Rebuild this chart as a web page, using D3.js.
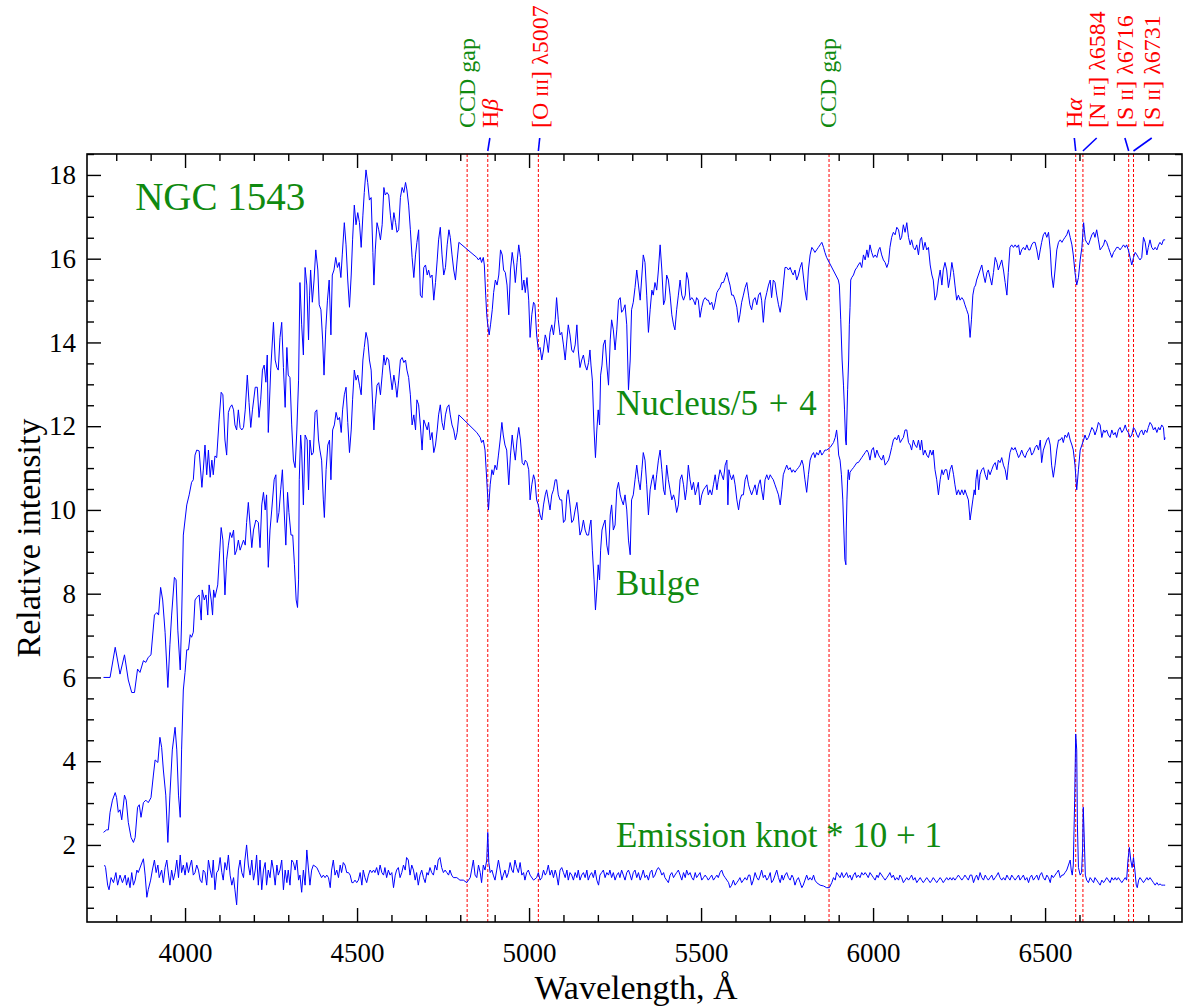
<!DOCTYPE html>
<html>
<head>
<meta charset="utf-8">
<script src="https://cdn.jsdelivr.net/npm/d3@7"></script>
<style>
  body { margin: 0; background: #fff; }
  text { font-family: "Liberation Serif", "DejaVu Serif", serif; }
</style>
</head>
<body>
<div id="chart"></div>
<script>
// ---- data: [wavelength (A), relative intensity] ----
var nucleus = [
[3763,6.00],[3782,6.00],[3797,6.72],[3811,6.08],[3824,6.54],[3835,5.94],[3845,5.64],[3853,5.64],[3862,6.20],[3869,6.12],[3879,6.40],[3886,6.36],[3893,6.48],[3901,6.54],[3911,7.49],[3918,7.55],[3923,7.49],[3929,8.15],[3935,7.85],[3942,7.08],[3950,5.76],[3956,6.78],[3961,7.49],[3969,8.39],[3974,8.33],[3979,7.13],[3986,6.18],[3990,7.37],[3995,9.40],[4000,9.76],[4005,10.12],[4012,10.36],[4019,10.66],[4024,10.72],[4029,11.31],[4034,11.43],[4041,11.41],[4049,10.54],[4053,10.95],[4058,11.55],[4063,10.84],[4068,11.43],[4073,10.78],[4078,11.19],[4082,10.84],[4087,11.29],[4092,11.25],[4099,12.15],[4105,12.81],[4110,12.75],[4116,11.67],[4121,11.31],[4126,12.33],[4131,12.45],[4136,12.51],[4141,12.39],[4145,12.03],[4150,11.91],[4155,12.39],[4160,11.97],[4165,11.91],[4170,11.97],[4175,12.39],[4181,13.22],[4186,12.57],[4191,11.97],[4196,12.39],[4204,12.93],[4210,12.93],[4215,12.21],[4220,12.63],[4225,13.34],[4230,13.46],[4235,13.05],[4239,13.70],[4242,11.85],[4249,13.34],[4257,14.48],[4262,13.58],[4267,13.40],[4271,13.34],[4276,14.12],[4281,14.48],[4286,13.40],[4291,12.45],[4296,13.88],[4300,13.22],[4305,13.16],[4310,12.03],[4315,11.19],[4320,11.01],[4325,11.91],[4330,13.10],[4334,15.43],[4339,14.42],[4344,13.70],[4349,15.79],[4354,15.37],[4359,14.06],[4362,15.13],[4365,15.73],[4370,14.96],[4375,15.49],[4380,16.21],[4386,15.73],[4390,14.90],
[4395,14.78],[4400,14.06],[4404,13.22],[4409,14.30],[4414,15.01],[4419,15.49],[4424,14.18],[4428,15.61],[4433,15.73],[4438,16.03],[4443,15.79],[4448,15.91],[4453,15.55],[4457,16.09],[4463,16.86],[4468,16.33],[4473,15.49],[4478,14.84],[4483,15.61],[4487,16.45],[4492,17.28],[4497,16.81],[4502,17.10],[4507,16.86],[4512,16.27],[4517,17.04],[4521,17.58],[4526,18.12],[4531,17.82],[4536,17.40],[4541,17.46],[4546,16.15],[4549,15.37],[4553,16.21],[4558,16.86],[4563,16.69],[4568,16.45],[4573,16.81],[4578,17.70],[4582,17.52],[4587,17.58],[4592,17.52],[4597,17.04],[4602,16.69],[4607,17.10],[4612,16.86],[4616,16.63],[4621,16.69],[4626,17.46],[4631,17.70],[4636,17.58],[4641,17.82],[4645,17.64],[4650,17.28],[4655,16.69],[4660,16.03],[4665,15.55],[4670,16.09],[4674,16.39],[4679,16.69],[4684,15.13],[4689,15.07],[4694,15.79],[4699,15.85],[4704,15.61],[4708,15.73],[4713,15.55],[4718,15.61],[4723,15.01],[4728,15.43],[4733,15.97],[4737,16.45],[4742,16.75],[4747,16.09],[4752,15.61],[4757,15.79],[4762,16.33],[4767,16.69],[4771,16.51],[4776,16.09],[4781,15.73],[4786,15.49],[4791,15.97],[4796,16.39],[4848,16.03],[4853,15.97],[4858,16.03],[4862,15.91],[4867,16.03],[4870,15.85],[4874,15.13],[4877,14.66],[4880,14.42],[4884,14.18],[4888,14.42],[4893,14.78],[4897,15.19],[4902,15.49],[4907,15.37],[4912,15.61],[4917,16.21],[4922,16.09],[4926,15.73],[4931,15.67],[4936,15.37],[4941,14.66],[4946,15.73],[4951,16.15],[4956,15.85],[4960,15.43],[4965,15.91],[4970,16.33],[4975,16.03],[4980,15.25],[4985,15.49],[4989,15.19],[4994,15.55],[4999,15.01],
[5003,14.12],[5008,14.66],[5013,14.96],[5017,14.90],[5022,14.18],[5027,13.82],[5032,13.88],[5037,13.58],[5042,13.82],[5047,14.18],[5051,14.06],[5056,13.76],[5061,14.24],[5066,14.42],[5071,14.18],[5076,14.54],[5080,15.07],[5085,14.54],[5090,14.18],[5095,14.24],[5100,13.94],[5105,13.58],[5110,14.06],[5114,14.42],[5119,14.18],[5124,13.82],[5129,13.76],[5134,13.94],[5139,14.42],[5143,13.82],[5148,13.40],[5153,13.58],[5158,13.70],[5163,13.46],[5168,13.34],[5173,13.52],[5177,13.82],[5180,13.46],[5184,13.10],[5189,11.91],[5193,11.25],[5197,11.91],[5201,12.39],[5205,12.03],[5208,13.22],[5212,13.46],[5216,13.94],[5221,14.06],[5226,13.46],[5231,12.98],[5236,14.06],[5240,14.54],[5245,14.30],[5250,13.82],[5255,14.30],[5260,15.01],[5265,15.07],[5269,14.72],[5274,14.78],[5279,14.90],[5284,14.42],[5289,12.87],[5294,13.58],[5298,14.78],[5303,14.96],[5308,15.31],[5313,15.73],[5318,15.37],[5323,15.01],[5328,15.61],[5332,16.09],[5337,15.91],[5342,15.13],[5347,14.24],[5352,14.78],[5357,15.25],[5361,15.13],[5366,15.43],[5371,15.25],[5376,15.73],[5381,16.33],[5386,15.73],[5391,14.90],[5395,15.01],[5400,15.61],[5405,15.49],[5410,15.13],[5415,14.66],[5420,14.42],[5424,14.30],[5429,14.78],[5434,15.13],[5439,15.49],[5444,15.13],[5449,15.01],[5454,15.13],[5458,15.67],[5463,15.49],[5468,15.01],[5473,15.07],[5478,15.01],[5483,14.90],[5487,15.07],[5492,15.01],[5497,14.60],[5502,14.84],[5507,15.01],[5512,15.07],[5517,15.01],[5521,15.01],[5526,14.90],[5531,14.96],[5536,14.78],[5541,14.96],[5546,15.19],[5550,15.25],[5555,15.31],[5560,15.43],[5565,15.43],[5570,15.55],[5575,15.67],[5580,15.49],[5584,15.37],[5589,15.13],[5594,15.13],[5599,15.01],[5604,14.84],[5609,14.48],[5613,14.66],[5618,14.96],[5623,15.13],[5628,15.31],[5633,15.43],[5638,15.13],
[5642,14.90],[5647,14.78],[5652,15.01],[5657,15.07],[5662,14.90],[5667,15.13],[5672,15.19],[5676,15.01],[5681,14.48],[5686,15.01],[5691,15.19],[5696,15.37],[5701,15.49],[5705,15.07],[5710,15.49],[5715,15.43],[5720,15.13],[5725,14.90],[5730,14.72],[5735,15.01],[5739,15.37],[5744,15.79],[5749,15.79],[5754,15.73],[5759,15.79],[5764,15.67],[5768,15.61],[5773,15.73],[5778,15.49],[5783,15.61],[5788,15.79],[5793,15.91],[5797,15.61],[5802,15.25],[5807,15.01],[5812,15.73],[5817,16.09],[5822,16.27],[5827,16.21],[5831,16.15],[5836,16.21],[5841,16.27],[5846,16.33],[5851,16.39],[5856,16.27],[5860,16.15],[5865,16.03],[5899,15.49],[5902,15.37],[5906,14.54],[5910,13.58],[5914,12.98],[5917,12.39],[5920,11.67],[5922,11.55],[5923,11.91],[5926,12.87],[5929,13.58],[5931,14.42],[5933,14.84],[5935,15.49],[5938,15.55],[5943,15.61],[5948,15.73],[5953,15.79],[5957,15.85],[5962,15.91],[5967,15.79],[5972,16.09],[5977,15.97],[5982,16.21],[5986,16.03],[5991,16.33],[5996,16.15],[6001,16.03],[6006,16.09],[6011,16.03],[6016,16.21],[6020,16.27],[6025,16.09],[6030,15.97],[6035,15.91],[6040,15.79],[6045,15.91],[6049,16.27],[6054,16.51],[6059,16.63],[6064,16.57],[6069,16.75],[6074,16.69],[6079,16.45],[6083,16.51],[6088,16.81],[6093,16.63],[6098,16.86],[6103,16.51],[6108,16.33],[6112,16.45],[6117,16.27],[6122,16.21],[6127,16.33],[6132,16.09],[6137,16.45],[6141,16.51],[6146,16.21],[6151,16.39],[6156,16.21],[6161,16.27],[6166,15.85],[6171,15.61],[6175,15.49],[6180,15.01],[6185,15.13],[6190,15.49],[6195,15.73],[6200,15.37],[6204,15.73],[6209,15.91],[6214,15.73],[6219,15.31],[6224,15.55],[6229,15.91],[6234,15.67],[6238,15.37],[6243,15.01],[6248,15.13],[6253,15.01],[6258,15.07],[6263,15.01],[6267,14.90],[6272,14.78],[6277,14.66],[6282,14.12],
[6286,14.54],[6290,15.13],[6294,15.31],[6298,15.37],[6301,15.49],[6306,15.61],[6311,15.73],[6316,15.85],[6321,15.61],[6326,15.43],[6331,15.67],[6335,15.73],[6340,15.55],[6345,15.37],[6350,15.67],[6355,16.03],[6360,15.91],[6364,15.73],[6369,15.85],[6374,15.97],[6379,15.73],[6384,15.43],[6389,15.13],[6393,15.67],[6398,16.27],[6403,16.33],[6408,16.27],[6413,16.33],[6418,16.27],[6423,16.33],[6427,16.09],[6432,16.21],[6437,16.27],[6442,16.21],[6447,16.33],[6452,16.21],[6456,16.21],[6461,16.33],[6466,16.39],[6471,16.39],[6476,16.21],[6481,15.97],[6486,16.21],[6490,16.39],[6495,16.57],[6500,16.63],[6505,16.51],[6510,16.63],[6515,16.21],[6519,15.61],[6524,15.31],[6529,15.73],[6534,16.21],[6539,16.39],[6544,16.45],[6549,16.39],[6553,16.45],[6558,16.51],[6563,16.57],[6568,16.69],[6573,16.51],[6578,16.33],[6582,16.09],[6587,15.67],[6592,15.37],[6597,15.55],[6602,15.97],[6607,16.27],[6612,16.86],[6614,16.69],[6617,16.45],[6621,16.39],[6626,16.33],[6631,16.45],[6636,16.57],[6641,16.63],[6645,16.51],[6650,16.69],[6655,16.45],[6660,16.21],[6665,16.27],[6670,16.33],[6674,16.45],[6679,16.39],[6684,16.27],[6689,16.15],[6694,16.03],[6699,16.15],[6704,16.21],[6708,16.27],[6713,16.27],[6718,16.21],[6723,16.27],[6728,16.33],[6733,16.27],[6737,16.33],[6742,16.21],[6747,16.03],[6752,15.85],[6757,16.03],[6762,16.15],[6767,16.09],[6771,16.03],[6776,15.97],[6781,16.03],[6786,16.51],[6791,16.39],[6796,16.09],[6800,16.27],[6805,16.45],[6810,16.27],[6815,16.21],[6820,16.27],[6825,16.21],[6830,16.33],[6834,16.39],[6839,16.33],[6844,16.45],[6849,16.45]
];

var bulge = [
[3763,2.30],[3772,2.36],[3777,2.36],[3782,2.78],[3789,3.07],[3797,3.25],[3801,3.13],[3806,2.78],[3811,2.84],[3816,2.60],[3824,3.19],[3829,3.07],[3835,2.54],[3843,2.18],[3850,2.06],[3855,2.18],[3862,2.90],[3867,2.96],[3872,2.66],[3879,3.01],[3886,3.07],[3893,3.01],[3901,3.13],[3908,3.67],[3913,4.03],[3921,3.97],[3927,4.57],[3932,4.33],[3937,3.79],[3944,3.19],[3950,2.06],[3956,3.19],[3963,4.27],[3971,4.81],[3976,4.27],[3981,3.19],[3986,2.66],[3990,4.27],[3995,5.70],[4000,6.12],[4005,6.66],[4010,6.66],[4015,7.02],[4019,6.96],[4024,7.08],[4029,7.85],[4034,7.91],[4041,7.97],[4047,7.37],[4050,8.09],[4056,7.85],[4061,7.97],[4066,7.49],[4070,8.21],[4076,7.85],[4080,7.49],[4083,8.09],[4087,7.91],[4095,8.21],[4101,9.04],[4105,9.58],[4110,9.28],[4116,7.97],[4121,8.81],[4126,9.16],[4131,9.46],[4136,9.34],[4141,9.52],[4145,8.93],[4150,9.04],[4155,9.28],[4160,9.04],[4165,9.16],[4170,9.28],[4175,9.16],[4179,9.70],[4184,10.18],[4189,9.64],[4194,9.10],[4199,9.52],[4206,9.76],[4213,9.70],[4218,9.10],[4223,10.12],[4228,10.42],[4233,10.00],[4237,10.36],[4242,8.63],[4247,9.52],[4252,10.00],[4259,10.72],[4264,10.84],[4268,9.70],[4273,9.94],[4278,10.48],[4283,10.96],[4288,10.00],[4293,9.16],[4298,10.42],[4302,9.94],[4308,9.40],[4313,9.40],[4318,8.69],[4323,7.85],[4327,7.67],[4330,8.33],[4332,10.72],[4336,11.79],[4339,11.43],[4344,10.12],[4349,11.79],[4355,11.67],[4359,10.48],[4363,11.67],[4368,11.31],[4373,11.37],[4378,12.33],[4383,12.39],[4388,11.67],
[4392,11.43],[4397,11.19],[4402,10.24],[4405,9.82],[4410,10.96],[4415,11.55],[4420,11.67],[4424,10.72],[4429,11.91],[4434,12.03],[4439,12.33],[4444,12.15],[4449,12.21],[4454,11.85],[4458,12.39],[4463,12.75],[4468,12.93],[4473,12.09],[4478,11.37],[4483,11.91],[4487,12.63],[4492,13.34],[4497,13.10],[4502,13.22],[4507,12.98],[4512,12.75],[4517,13.58],[4521,13.88],[4526,14.24],[4531,14.06],[4536,13.58],[4541,13.34],[4546,12.39],[4549,11.91],[4553,12.51],[4558,12.98],[4563,13.04],[4568,12.75],[4573,13.22],[4578,13.70],[4582,13.46],[4587,13.64],[4592,13.58],[4597,13.22],[4602,12.87],[4607,13.22],[4612,12.98],[4616,12.69],[4621,13.10],[4626,13.58],[4631,13.64],[4636,13.52],[4641,13.58],[4645,13.34],[4650,13.16],[4655,12.75],[4660,12.03],[4665,12.27],[4670,11.91],[4674,12.63],[4679,12.51],[4684,12.03],[4689,11.43],[4694,12.15],[4699,12.03],[4704,11.91],[4708,12.09],[4713,11.67],[4718,11.85],[4723,11.37],[4728,11.55],[4733,11.91],[4737,12.27],[4742,12.51],[4747,12.09],[4752,11.91],[4757,12.27],[4762,12.45],[4767,12.51],[4771,12.27],[4776,12.03],[4781,11.91],[4786,11.67],[4791,11.85],[4796,12.27],[4848,11.85],[4853,11.79],[4858,11.73],[4862,11.61],[4867,11.67],[4872,11.43],[4877,10.72],[4882,10.00],[4887,10.60],[4892,10.96],[4896,10.84],[4901,11.07],[4906,10.96],[4911,11.31],[4916,11.67],[4921,12.09],[4925,11.79],[4930,11.55],[4935,11.43],[4941,10.60],[4946,11.31],[4951,11.79],[4956,11.43],[4960,11.19],[4965,11.67],[4970,11.97],[4975,11.67],[4980,11.13],[4985,11.07],[4989,11.19],[4994,11.13],[4999,10.96],
[5003,10.24],[5008,10.60],[5013,10.84],[5017,10.72],[5022,10.24],[5027,10.12],[5032,9.88],[5037,9.76],[5042,10.12],[5047,10.36],[5051,10.48],[5056,10.24],[5061,10.00],[5066,10.36],[5071,10.48],[5076,10.72],[5080,10.72],[5085,10.36],[5090,10.24],[5095,10.24],[5100,9.70],[5105,9.76],[5110,10.36],[5114,10.48],[5119,10.12],[5124,9.70],[5129,9.76],[5134,10.00],[5139,10.18],[5143,9.88],[5148,9.40],[5153,9.52],[5158,9.76],[5163,9.52],[5168,9.40],[5173,9.40],[5177,9.64],[5180,9.76],[5184,9.04],[5189,8.33],[5193,7.61],[5197,8.09],[5201,8.69],[5205,8.33],[5208,9.04],[5212,9.52],[5216,9.64],[5221,9.76],[5226,9.16],[5231,8.93],[5236,9.88],[5240,10.12],[5245,9.52],[5250,9.64],[5255,10.48],[5260,10.66],[5265,10.36],[5269,10.24],[5274,10.12],[5279,10.36],[5284,10.00],[5289,9.28],[5294,8.93],[5298,10.24],[5303,10.36],[5308,10.72],[5313,11.07],[5318,10.72],[5323,10.48],[5328,10.96],[5332,11.37],[5337,11.19],[5342,10.60],[5347,9.88],[5352,10.48],[5357,10.72],[5361,10.84],[5366,10.48],[5371,10.84],[5376,11.19],[5381,11.43],[5386,10.96],[5391,10.48],[5395,10.36],[5400,11.07],[5405,10.72],[5410,10.48],[5415,10.24],[5420,10.36],[5424,10.24],[5429,9.94],[5434,10.12],[5439,10.72],[5444,10.84],[5449,10.60],[5454,10.24],[5458,10.48],[5463,11.07],[5468,10.72],[5473,10.48],[5478,10.66],[5483,10.36],[5487,10.48],[5492,10.66],[5497,10.12],[5502,10.36],[5507,10.48],[5512,10.54],[5517,10.60],[5521,10.36],[5526,10.48],[5531,10.36],[5536,10.60],[5541,10.84],[5546,10.48],[5550,10.72],[5555,10.96],[5560,10.84],[5565,10.72],[5570,11.07],[5575,11.19],[5578,10.12],[5581,10.96],[5584,10.84],[5589,10.72],[5594,10.84],[5599,10.60],[5604,10.24],[5609,10.00],[5613,10.24],[5618,10.36],[5623,10.36],[5628,10.72],[5633,10.84],[5638,10.60],
[5642,10.48],[5647,10.36],[5652,10.48],[5657,10.60],[5662,10.36],[5667,10.60],[5672,10.72],[5676,10.48],[5681,10.24],[5686,10.72],[5691,10.84],[5696,10.72],[5701,10.84],[5705,10.78],[5710,10.72],[5715,10.60],[5720,10.48],[5725,10.36],[5730,10.12],[5735,10.48],[5739,10.84],[5744,10.96],[5749,11.07],[5754,10.96],[5759,11.01],[5764,10.90],[5768,10.96],[5773,10.90],[5778,10.96],[5783,11.01],[5788,11.07],[5793,11.19],[5797,11.07],[5802,10.72],[5807,10.42],[5812,10.84],[5817,11.19],[5822,11.31],[5827,11.37],[5831,11.25],[5836,11.37],[5841,11.31],[5846,11.43],[5851,11.31],[5856,11.37],[5860,11.43],[5865,11.43],[5875,11.49],[5885,11.61],[5890,11.73],[5894,11.91],[5897,11.67],[5900,11.31],[5904,11.19],[5908,10.84],[5912,10.24],[5915,9.52],[5918,8.81],[5921,8.69],[5922,9.52],[5924,10.24],[5926,10.72],[5928,10.96],[5931,10.72],[5933,10.90],[5938,10.96],[5943,11.01],[5948,11.07],[5953,11.13],[5957,11.13],[5962,11.19],[5967,11.25],[5972,11.31],[5977,11.37],[5982,11.43],[5986,11.37],[5991,11.19],[5996,11.43],[6001,11.49],[6006,11.25],[6011,11.43],[6016,11.31],[6020,11.25],[6025,11.19],[6030,11.31],[6035,11.07],[6040,11.13],[6045,11.19],[6049,11.31],[6054,11.49],[6059,11.67],[6064,11.73],[6069,11.67],[6074,11.79],[6079,11.61],[6083,11.67],[6088,11.73],[6093,11.91],[6098,11.91],[6103,11.61],[6108,11.55],[6112,11.43],[6117,11.67],[6122,11.55],[6127,11.49],[6132,11.67],[6137,11.43],[6141,11.67],[6146,11.31],[6151,11.43],[6156,11.31],[6161,11.25],[6166,11.43],[6171,11.31],[6175,11.43],[6180,10.96],[6185,10.72],[6190,10.36],[6195,10.72],[6200,10.96],[6204,10.84],[6209,10.96],[6214,10.96],[6219,10.72],[6224,10.96],[6229,11.07],[6234,10.84],[6238,10.60],[6243,10.36],[6248,10.48],[6253,10.36],[6258,10.48],[6263,10.36],[6267,10.48],[6272,10.36],[6277,10.24],[6282,9.76],
[6286,10.00],[6290,10.24],[6294,10.48],[6297,10.36],[6299,10.72],[6303,10.96],[6307,10.48],[6311,10.84],[6316,10.96],[6321,11.01],[6326,10.84],[6331,10.72],[6335,10.96],[6340,10.84],[6345,10.96],[6350,11.07],[6355,11.13],[6360,10.96],[6364,11.19],[6369,11.13],[6374,11.25],[6379,11.07],[6384,10.96],[6389,10.72],[6393,11.07],[6398,11.37],[6403,11.49],[6408,11.43],[6413,11.49],[6418,11.37],[6423,11.25],[6427,11.31],[6432,11.43],[6437,11.31],[6442,11.25],[6447,11.37],[6452,11.43],[6456,11.49],[6461,11.31],[6466,11.37],[6471,11.49],[6476,11.55],[6481,11.43],[6486,11.67],[6490,11.13],[6495,11.43],[6500,11.55],[6505,11.67],[6510,11.73],[6515,11.55],[6519,11.07],[6524,10.78],[6529,11.07],[6534,11.43],[6539,11.67],[6544,11.67],[6549,11.73],[6553,11.61],[6558,11.79],[6563,11.73],[6568,11.85],[6573,11.67],[6578,11.55],[6582,11.43],[6587,11.07],[6592,10.48],[6597,10.96],[6602,11.43],[6607,11.55],[6612,11.67],[6616,11.79],[6621,11.67],[6626,11.73],[6631,11.85],[6636,11.97],[6641,11.91],[6645,11.79],[6650,11.91],[6655,12.09],[6660,12.03],[6665,11.73],[6670,11.91],[6674,11.85],[6679,11.91],[6684,11.79],[6689,11.73],[6694,11.91],[6699,11.79],[6704,11.85],[6708,11.73],[6713,11.91],[6718,11.97],[6723,11.85],[6728,11.91],[6733,12.03],[6737,11.91],[6742,11.85],[6747,11.73],[6752,11.79],[6757,11.97],[6762,11.91],[6767,11.79],[6771,11.73],[6776,11.85],[6781,11.91],[6786,11.79],[6791,11.91],[6796,11.85],[6800,11.97],[6805,12.09],[6810,12.03],[6815,11.91],[6820,11.97],[6825,11.85],[6830,11.97],[6834,11.91],[6839,12.03],[6844,11.97],[6847,11.67],[6849,11.73]
];

var knot = [
[3766,1.52],[3769,1.46],[3775,1.04],[3779,0.93],[3785,1.22],[3792,1.10],[3799,1.34],[3804,1.04],[3811,1.28],[3818,1.10],[3826,1.28],[3830,1.04],[3835,1.22],[3840,0.98],[3845,1.34],[3850,1.04],[3855,1.16],[3860,1.40],[3864,1.34],[3872,1.52],[3879,1.67],[3884,1.28],[3889,0.75],[3893,0.93],[3900,1.16],[3905,1.40],[3911,1.64],[3916,1.34],[3921,1.52],[3925,1.22],[3932,1.40],[3937,1.10],[3942,1.46],[3947,1.64],[3952,1.28],[3956,1.04],[3961,1.40],[3966,1.16],[3971,1.34],[3976,1.64],[3981,1.22],[3986,1.76],[3990,1.34],[3995,1.52],[4000,1.28],[4005,1.58],[4010,1.34],[4015,1.52],[4019,1.64],[4024,1.28],[4029,1.34],[4034,1.52],[4039,1.40],[4044,1.16],[4049,1.10],[4053,1.40],[4058,1.34],[4063,1.04],[4068,1.64],[4073,1.40],[4078,1.22],[4082,1.64],[4087,0.93],[4092,1.34],[4097,1.40],[4102,1.70],[4107,1.34],[4111,1.16],[4116,1.58],[4121,1.40],[4126,1.76],[4131,1.28],[4136,1.04],[4141,1.22],[4145,0.93],[4150,0.57],[4155,1.40],[4160,1.64],[4165,1.34],[4170,1.22],[4174,1.64],[4179,2.00],[4184,1.52],[4189,1.28],[4194,1.64],[4199,1.16],[4204,1.40],[4208,1.76],[4213,1.04],[4218,1.64],[4223,0.93],[4228,1.40],[4233,1.58],[4237,1.04],[4242,1.40],[4247,1.22],[4252,1.64],[4257,1.40],[4262,1.04],[4267,1.52],[4271,1.28],[4276,1.40],[4281,1.64],[4286,0.93],[4291,1.40],[4296,1.10],[4300,1.40],[4305,1.04],[4310,1.64],[4315,1.58],[4320,1.40],[4325,1.64],[4330,1.16],[4334,1.28],[4339,0.87],[4344,1.40],[4349,1.04],[4354,1.88],[4359,1.40],[4363,1.04],[4368,1.40],[4373,1.52],[4383,1.46],[4390,1.34],
[4397,1.22],[4402,1.28],[4407,1.22],[4412,1.28],[4417,1.22],[4422,0.98],[4426,1.40],[4431,1.64],[4436,1.28],[4441,1.40],[4446,1.22],[4451,1.52],[4455,1.34],[4460,1.58],[4465,1.52],[4470,1.34],[4475,1.34],[4480,1.28],[4485,1.10],[4489,1.10],[4494,1.16],[4499,1.10],[4504,1.16],[4509,1.34],[4514,1.04],[4518,1.40],[4523,1.22],[4528,1.10],[4533,1.28],[4538,1.40],[4543,1.34],[4548,1.40],[4552,1.34],[4557,1.46],[4562,1.28],[4567,1.52],[4572,1.34],[4577,1.28],[4581,1.46],[4586,1.22],[4591,1.40],[4596,1.28],[4601,1.34],[4606,0.98],[4611,1.28],[4615,1.40],[4620,1.46],[4625,1.22],[4630,1.34],[4635,1.52],[4640,1.40],[4644,1.70],[4649,1.64],[4654,1.28],[4659,1.52],[4664,1.40],[4669,1.16],[4673,1.34],[4678,1.04],[4683,1.28],[4688,1.40],[4693,1.22],[4698,1.10],[4703,1.34],[4707,1.28],[4712,1.46],[4717,1.34],[4722,1.28],[4727,1.52],[4732,1.40],[4736,1.64],[4741,1.70],[4746,1.46],[4751,1.34],[4756,1.40],[4761,1.34],[4766,1.28],[4770,1.40],[4775,1.28],[4780,1.22],[4790,1.22],[4799,1.16],[4809,1.16],[4819,1.10],[4824,1.16],[4829,1.22],[4833,1.40],[4838,1.64],[4843,1.28],[4848,1.22],[4853,1.52],[4858,1.34],[4862,1.10],[4867,1.52],[4872,1.40],[4877,1.64],[4880,2.30],[4883,1.58],[4887,1.34],[4892,1.40],[4896,1.28],[4901,1.16],[4906,1.40],[4911,1.64],[4916,1.40],[4921,1.16],[4925,1.28],[4930,1.40],[4935,1.22],[4940,1.34],[4945,1.58],[4950,1.40],[4954,1.34],[4959,1.64],[4964,1.46],[4969,1.34],[4974,1.58],[4979,1.28],[4984,1.34],[4988,1.16],[4993,1.34],[4998,1.40],
[5003,1.28],[5013,1.16],[5022,1.22],[5027,1.34],[5032,1.16],[5037,1.22],[5042,1.40],[5047,1.28],[5051,1.34],[5056,1.52],[5061,1.28],[5066,1.40],[5071,1.22],[5076,1.40],[5080,1.28],[5085,1.04],[5090,1.40],[5095,1.46],[5100,1.34],[5105,1.22],[5110,1.40],[5114,1.16],[5119,1.34],[5124,1.28],[5129,1.16],[5134,1.34],[5139,1.22],[5143,1.40],[5148,1.16],[5153,1.28],[5158,1.34],[5163,1.22],[5168,1.40],[5172,1.16],[5177,1.28],[5182,1.34],[5187,1.22],[5192,1.40],[5197,1.16],[5202,1.04],[5206,1.28],[5211,1.34],[5216,1.40],[5221,1.22],[5226,1.34],[5231,1.28],[5235,1.40],[5240,1.22],[5245,1.34],[5250,1.16],[5255,1.28],[5260,1.34],[5264,1.22],[5269,1.40],[5274,1.28],[5279,1.16],[5284,1.34],[5289,1.40],[5294,1.28],[5298,1.16],[5303,1.34],[5308,1.40],[5313,1.22],[5318,1.34],[5323,1.16],[5328,1.28],[5332,1.40],[5337,1.22],[5342,1.28],[5347,1.16],[5352,1.34],[5357,1.40],[5361,1.22],[5366,1.28],[5371,1.40],[5376,1.46],[5381,1.40],[5386,1.28],[5391,1.34],[5395,1.22],[5400,1.16],[5405,1.10],[5410,1.28],[5415,1.34],[5420,1.22],[5424,1.28],[5429,1.34],[5434,1.40],[5439,1.28],[5444,1.16],[5449,1.34],[5454,1.22],[5458,1.40],[5463,1.28],[5468,1.34],[5473,1.22],[5478,1.16],[5483,1.34],[5487,1.22],[5492,1.28],[5497,1.34],[5502,1.16],[5507,1.22],[5512,1.28],[5517,1.22],[5521,1.16],[5526,1.22],[5531,1.28],[5536,1.16],[5541,1.22],[5546,1.28],[5550,1.22],[5555,1.34],[5560,1.40],[5565,1.28],[5570,1.22],[5575,1.16],[5580,1.10],[5584,0.98],[5589,1.04],[5594,1.16],[5599,1.04],[5604,1.10],[5609,1.16],[5613,1.22],[5618,1.10],[5623,1.16],[5628,1.22],[5633,1.16],[5638,1.28],
[5642,1.28],[5647,1.04],[5652,1.16],[5657,1.34],[5662,1.22],[5667,1.16],[5672,1.28],[5676,1.40],[5681,1.22],[5686,1.28],[5691,1.16],[5696,1.22],[5701,1.34],[5705,1.10],[5710,1.16],[5715,1.28],[5720,1.40],[5725,1.22],[5730,1.10],[5735,1.28],[5739,1.16],[5744,1.28],[5749,1.34],[5754,1.22],[5759,1.16],[5764,1.28],[5768,1.22],[5773,1.04],[5778,1.16],[5783,1.22],[5788,1.10],[5793,0.98],[5797,1.04],[5802,1.16],[5807,1.28],[5812,1.16],[5817,1.22],[5822,1.16],[5827,1.28],[5831,1.16],[5836,1.10],[5846,1.04],[5856,1.02],[5865,0.98],[5873,0.98],[5880,1.10],[5885,1.22],[5890,1.16],[5894,1.34],[5899,1.28],[5904,1.22],[5909,1.34],[5914,1.22],[5919,1.28],[5923,1.34],[5928,1.22],[5933,1.28],[5938,1.16],[5943,1.28],[5948,1.34],[5952,1.22],[5957,1.28],[5962,1.22],[5967,1.34],[5972,1.28],[5977,1.34],[5982,1.28],[5986,1.22],[5991,1.34],[5996,1.28],[6001,1.22],[6006,1.16],[6011,1.28],[6015,1.22],[6020,1.34],[6025,1.28],[6030,1.22],[6035,1.16],[6040,1.22],[6045,1.28],[6049,1.34],[6054,1.22],[6059,1.28],[6064,1.16],[6069,1.22],[6074,1.16],[6078,1.28],[6083,1.22],[6088,1.10],[6093,1.16],[6098,1.22],[6103,1.16],[6108,1.22],[6112,1.28],[6117,1.16],[6122,1.22],[6127,1.10],[6132,1.16],[6137,1.22],[6141,1.16],[6146,1.10],[6151,1.16],[6156,1.22],[6161,1.16],[6166,1.10],[6171,1.16],[6175,1.22],[6180,1.16],[6185,1.10],[6190,1.16],[6195,1.22],[6200,1.16],[6204,1.10],[6209,1.16],[6214,1.22],[6219,1.16],[6224,1.22],[6229,1.16],[6233,1.22],[6238,1.16],[6243,1.22],[6248,1.28],[6253,1.22],[6258,1.16],[6263,1.22],[6267,1.28],[6272,1.22],[6277,1.16],[6282,1.28],
[6287,1.28],[6292,1.10],[6297,1.22],[6301,1.28],[6306,1.16],[6311,1.34],[6316,1.22],[6321,1.16],[6326,1.28],[6330,1.22],[6335,1.16],[6340,1.22],[6345,1.28],[6350,1.16],[6355,1.22],[6360,1.28],[6364,1.34],[6369,1.22],[6374,1.16],[6379,1.22],[6384,1.16],[6389,1.28],[6393,1.22],[6398,1.16],[6403,1.28],[6408,1.22],[6413,1.16],[6418,1.22],[6423,1.28],[6427,1.16],[6432,1.22],[6437,1.28],[6442,1.16],[6447,1.22],[6452,1.10],[6456,1.22],[6461,1.28],[6466,1.16],[6471,1.22],[6476,1.28],[6481,1.16],[6485,1.28],[6490,1.34],[6495,1.22],[6500,1.16],[6505,1.28],[6510,1.22],[6515,1.10],[6519,1.28],[6524,1.22],[6529,1.28],[6534,1.34],[6539,1.40],[6544,1.22],[6549,1.28],[6553,1.28],[6558,1.34],[6563,1.40],[6568,1.52],[6573,1.64],[6576,1.40],[6579,1.28],[6582,1.52],[6586,3.07],[6589,4.65],[6592,4.27],[6594,2.48],[6597,1.46],[6602,1.28],[6606,1.34],[6609,1.88],[6611,2.90],[6614,2.12],[6617,1.28],[6621,1.16],[6626,1.10],[6631,1.22],[6636,1.16],[6641,1.10],[6645,1.22],[6650,1.16],[6655,1.10],[6660,1.04],[6665,1.16],[6670,1.10],[6675,1.16],[6679,1.22],[6684,1.16],[6689,1.10],[6694,1.22],[6699,1.16],[6704,1.22],[6708,1.16],[6713,1.22],[6718,1.16],[6723,1.10],[6728,1.16],[6733,1.22],[6737,1.16],[6741,1.64],[6745,1.94],[6749,1.64],[6753,1.46],[6757,1.70],[6761,1.40],[6765,1.04],[6768,0.98],[6772,1.16],[6776,1.22],[6781,1.16],[6786,1.10],[6791,1.16],[6796,1.22],[6800,1.16],[6805,1.22],[6810,1.16],[6815,1.10],[6820,1.04],[6825,1.10],[6830,1.04],[6834,1.07],[6839,1.04],[6844,1.04],[6849,1.04]
];

// tick values
var xMajor = [4000, 4500, 5000, 5500, 6000, 6500];
var yMajor = [2, 4, 6, 8, 10, 12, 14, 16, 18];

// marked lines (observed wavelength) and where their labels sit
var lineNames  = ["CCD gap", "Hβ", "[O III] λ5007", "CCD gap", "Hα", "[N II] λ6584", "[S II] λ6716", "[S II] λ6731"];
var lineWaves  = [4820, 4880, 5027, 5872, 6589, 6610, 6743, 6757];
var labelWaves = [4820, 4886, 5031, 5869, 6585, 6650, 6732, 6810];
var lineIsGap  = [true, false, false, true, false, false, false, false];

var seriesNames = ["Nucleus/5 + 4", "Bulge", "Emission knot * 10 + 1"];

// ---- layout ----
var W = 1187, H = 1008;
var margin = {top: 154, right: 5, bottom: 86, left: 87};
var width = W - margin.left - margin.right;
var height = H - margin.top - margin.bottom;
var serif = '"Liberation Serif", "DejaVu Serif", serif';
var green = "#108a10";

var svg = d3.select("#chart").append("svg")
  .attr("width", W)
  .attr("height", H);

var g = svg.append("g")
  .attr("transform", "translate(" + margin.left + "," + margin.top + ")");

var xScale = d3.scaleLinear().domain([3715, 6898]).range([0, width]);
var yScale = d3.scaleLinear().domain([0.16, 18.5]).range([height, 0]);

var xMinor = d3.range(3800, 6900, 100).filter(function(d) { return d % 500 != 0; });
var yMinor = d3.range(0.5, 18.6, 0.5).filter(function(d) { return d % 2 != 0; });

function styleAxis(sel, labels) {
  sel.attr("font-family", null).attr("font-size", null);
  sel.select(".domain").remove();
  sel.selectAll("line").attr("stroke", "#000").attr("stroke-width", 1.4);
  sel.selectAll("text").attr("fill", "#000")
    .style("font-family", serif).style("font-size", "27px");
  if (!labels) sel.selectAll("text").remove();
}

// bottom
g.append("g").attr("transform", "translate(0," + height + ")")
  .call(d3.axisBottom(xScale).tickValues(xMinor).tickSize(-7).tickSizeOuter(0).tickFormat(""))
  .call(styleAxis, false);
g.append("g").attr("transform", "translate(0," + height + ")")
  .call(d3.axisBottom(xScale).tickValues(xMajor).tickSize(-14).tickSizeOuter(0).tickPadding(21).tickFormat(d3.format("d")))
  .call(styleAxis, true);
// top
g.append("g")
  .call(d3.axisTop(xScale).tickValues(xMinor).tickSize(-7).tickSizeOuter(0).tickFormat(""))
  .call(styleAxis, false);
g.append("g")
  .call(d3.axisTop(xScale).tickValues(xMajor).tickSize(-14).tickSizeOuter(0).tickFormat(""))
  .call(styleAxis, false);
// left
g.append("g")
  .call(d3.axisLeft(yScale).tickValues(yMinor).tickSize(-7).tickSizeOuter(0).tickFormat(""))
  .call(styleAxis, false);
g.append("g")
  .call(d3.axisLeft(yScale).tickValues(yMajor).tickSize(-14).tickSizeOuter(0).tickPadding(11))
  .call(styleAxis, true);
// right
g.append("g").attr("transform", "translate(" + width + ",0)")
  .call(d3.axisRight(yScale).tickValues(yMinor).tickSize(-7).tickSizeOuter(0).tickFormat(""))
  .call(styleAxis, false);
g.append("g").attr("transform", "translate(" + width + ",0)")
  .call(d3.axisRight(yScale).tickValues(yMajor).tickSize(-14).tickSizeOuter(0).tickFormat(""))
  .call(styleAxis, false);

// dashed marker lines
g.selectAll(".marker")
  .data(lineWaves)
  .enter().append("line")
  .attr("class", "marker")
  .attr("x1", function(d) { return xScale(d); })
  .attr("x2", function(d) { return xScale(d); })
  .attr("y1", 0)
  .attr("y2", height)
  .attr("stroke", "#ff0000")
  .attr("stroke-width", 1)
  .attr("stroke-dasharray", "3,2");

// spectra
var line = d3.line()
  .x(function(d) { return xScale(d[0]); })
  .y(function(d) { return yScale(d[1]); });

[nucleus, bulge, knot].forEach(function(s) {
  g.append("path")
    .datum(s)
    .attr("fill", "none")
    .attr("stroke", "#0000ff")
    .attr("stroke-width", 1)
    .attr("stroke-linejoin", "round")
    .attr("d", line);
});

// frame
g.append("rect")
  .attr("width", width).attr("height", height)
  .attr("fill", "none").attr("stroke", "#000").attr("stroke-width", 1.6);

// in-plot labels
g.append("text")
  .attr("x", xScale(3855)).attr("y", yScale(17.16))
  .attr("fill", green).style("font-size", "39px")
  .text("NGC 1543");

var seriesAt = [[5253, 12.27], [5253, 7.98], [5253, 1.95]];
seriesNames.forEach(function(name, i) {
  g.append("text")
    .attr("x", xScale(seriesAt[i][0])).attr("y", yScale(seriesAt[i][1]))
    .attr("fill", green).style("font-size", "35px")
    .style("word-spacing", i == 0 ? "2px" : "0px")
    .text(name);
});

// line labels above the frame
function richLabel(sel, str, size) {
  str.split(/(I+(?=\])|α|β)/).forEach(function(p) {
    if (!p) return;
    var t = sel.append("tspan").text(p);
    if (/^I+$/.test(p)) t.style("font-size", (size * 0.74) + "px");
    else if (p == "α" || p == "β") t.style("font-style", "italic");
  });
}

lineNames.forEach(function(name, i) {
  var lx = xScale(labelWaves[i]);
  var t = g.append("text")
    .attr("transform", "translate(" + (lx + 8) + "," + (-26) + ") rotate(-90)")
    .attr("fill", lineIsGap[i] ? green : "#ff0000")
    .style("font-size", "24px");
  richLabel(t, name, 24);
  if (!lineIsGap[i]) {
    g.append("line")
      .attr("x1", xScale(lineWaves[i])).attr("y1", -3)
      .attr("x2", lx).attr("y2", -16)
      .attr("stroke", "#0000ff").attr("stroke-width", 1.6);
  }
});

// axis titles
svg.append("text")
  .attr("x", 636).attr("y", 999)
  .attr("text-anchor", "middle")
  .style("font-size", "34px")
  .text("Wavelength, Å");

svg.append("text")
  .attr("transform", "translate(40," + (margin.top + height / 2) + ") rotate(-90)")
  .attr("text-anchor", "middle")
  .style("font-size", "34px")
  .text("Relative intensity");
</script>
</body>
</html>
